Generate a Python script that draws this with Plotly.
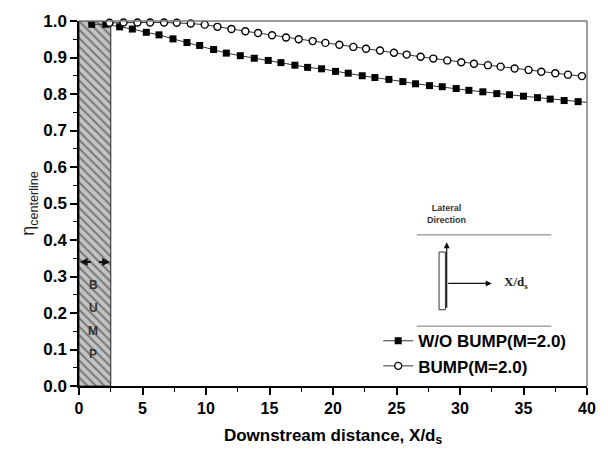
import plotly.graph_objects as go

# ---- data ----
wo_bump_x = [1.0, 2.1, 3.2, 4.2, 5.3, 6.3, 7.4, 8.5, 9.5, 10.6, 11.6, 12.7, 13.8, 14.9,
             15.9, 17.0, 18.0, 19.1, 20.2, 21.2, 22.3, 23.3, 24.4, 25.5, 26.5, 27.6,
             28.6, 29.7, 30.7, 31.8, 32.9, 33.9, 35.0, 36.1, 37.1, 38.2, 39.3, 40.3]
wo_bump_y = [0.991, 0.991, 0.984, 0.978, 0.969, 0.962, 0.951, 0.941, 0.933, 0.922, 0.912,
             0.905, 0.898, 0.892, 0.886, 0.879, 0.873, 0.869, 0.862, 0.857, 0.850, 0.845,
             0.840, 0.834, 0.828, 0.823, 0.820, 0.815, 0.810, 0.806, 0.801, 0.798, 0.794,
             0.790, 0.786, 0.782, 0.779, 0.776]

bump_x = [2.4, 3.5, 4.6, 5.6, 6.7, 7.7, 8.8, 9.9, 10.9, 12.0, 13.1, 14.1, 15.2, 16.3,
          17.3, 18.4, 19.4, 20.5, 21.6, 22.6, 23.7, 24.8, 25.8, 26.9, 27.9, 29.0, 30.1,
          31.1, 32.2, 33.2, 34.3, 35.4, 36.4, 37.5, 38.5, 39.6]
bump_y = [0.995, 0.996, 0.996, 0.996, 0.996, 0.995, 0.993, 0.990, 0.984, 0.978, 0.972,
          0.967, 0.961, 0.955, 0.950, 0.945, 0.940, 0.935, 0.929, 0.924, 0.919, 0.913,
          0.908, 0.902, 0.897, 0.892, 0.887, 0.883, 0.879, 0.875, 0.870, 0.866, 0.861,
          0.857, 0.853, 0.849]

series_names = ["W/O BUMP(M=2.0)", "BUMP(M=2.0)"]

bump_region = [0.0, 2.5]      # x extent of bump block
bump_height = 1.0
bump_letters = ["B", "U", "M", "P"]
bump_letter_y = [0.278, 0.213, 0.151, 0.088]
bump_marker_y = 0.34

x_ticks = [0, 5, 10, 15, 20, 25, 30, 35, 40]
y_ticks = [0.0, 0.1, 0.2, 0.3, 0.4, 0.5, 0.6, 0.7, 0.8, 0.9, 1.0]

FONT = "Liberation Sans, Arial, sans-serif"

fig = go.Figure()

# hatched bump block
fig.add_trace(go.Bar(
    x=[(bump_region[0] + bump_region[1]) / 2], y=[bump_height], base=0,
    width=[bump_region[1] - bump_region[0]],
    marker=dict(color="#c4c4c4", line=dict(color="#222", width=1),
                pattern=dict(shape="\\", fgcolor="#2e2e2e", bgcolor="#c4c4c4",
                             size=6, solidity=0.35)),
    showlegend=False, hoverinfo="skip"))

fig.add_trace(go.Scatter(
    x=wo_bump_x, y=wo_bump_y, name=series_names[0], mode="lines+markers",
    line=dict(color="#333", width=1),
    marker=dict(symbol="square", size=7, color="black"),
    cliponaxis=True))

fig.add_trace(go.Scatter(
    x=bump_x, y=bump_y, name=series_names[1], mode="lines+markers",
    line=dict(color="#333", width=1),
    marker=dict(symbol="circle", size=7, color="white", line=dict(color="black", width=1.4)),
    cliponaxis=False))

shapes = [
    # gray top / right frame
    dict(type="line", xref="paper", yref="paper", x0=0, x1=1, y0=1, y1=1,
         line=dict(color="#7a7a7a", width=1.5)),
    dict(type="line", xref="paper", yref="paper", x0=1, x1=1, y0=0, y1=1,
         line=dict(color="#7a7a7a", width=1.5)),
    # inset diagram
    dict(type="line", x0=26.6, x1=37.2, y0=0.414, y1=0.414, line=dict(color="#777", width=1)),
    dict(type="line", x0=26.6, x1=37.2, y0=0.164, y1=0.164, line=dict(color="#777", width=1)),
    dict(type="rect", x0=28.35, x1=28.85, y0=0.209, y1=0.367,
         line=dict(color="#333", width=1), fillcolor="white"),
]

annotations = []
# B U M P letters
for letter, ly in zip(bump_letters, bump_letter_y):
    annotations.append(dict(x=1.13, y=ly, text=letter, showarrow=False,
                            font=dict(family=FONT, size=12, color="#333", weight="bold")))
# double arrow across the bump
annotations.append(dict(x=0.05, y=bump_marker_y, ax=1.05, ay=bump_marker_y, axref="x", ayref="y",
                        text="", showarrow=True, arrowhead=2, arrowsize=0.8, arrowwidth=2,
                        arrowcolor="#111"))
annotations.append(dict(x=2.45, y=bump_marker_y, ax=1.45, ay=bump_marker_y, axref="x", ayref="y",
                        text="", showarrow=True, arrowhead=2, arrowsize=0.8, arrowwidth=2,
                        arrowcolor="#111"))
# inset arrows
annotations.append(dict(x=28.95, y=0.394, ax=28.95, ay=0.210, axref="x", ayref="y",
                        text="", showarrow=True, arrowhead=2, arrowsize=1, arrowwidth=1.2,
                        arrowcolor="#111"))
annotations.append(dict(x=32.5, y=0.281, ax=28.95, ay=0.281, axref="x", ayref="y",
                        text="", showarrow=True, arrowhead=2, arrowsize=1, arrowwidth=1.2,
                        arrowcolor="#111"))
annotations.append(dict(x=33.3, y=0.283, xanchor="left", text="X/d<sub>s</sub>", showarrow=False,
                        font=dict(family="Liberation Serif, Times New Roman, serif", size=13,
                                  color="#222", weight="bold")))
annotations.append(dict(x=28.9, y=0.470, text="Lateral<br>Direction", showarrow=False,
                        font=dict(family=FONT, size=9, color="#333", weight="bold")))

fig.update_layout(
    width=608, height=455,
    margin=dict(l=79, r=21, t=15, b=69),
    paper_bgcolor="white", plot_bgcolor="white",
    barmode="overlay",
    shapes=shapes, annotations=annotations,
    font=dict(family=FONT, color="black"),
    legend=dict(x=0.589, y=0.172, xanchor="left", yanchor="top",
                bgcolor="rgba(0,0,0,0)", font=dict(family=FONT, size=17, weight="bold"),
                tracegroupgap=0),
    xaxis=dict(range=[0, 40], tickvals=x_ticks, showgrid=False, zeroline=False,
               showline=True, linecolor="black", linewidth=1.5,
               ticks="outside", ticklen=7, tickwidth=1.5, tickcolor="black",
               minor=dict(dtick=2.5, ticks="outside", ticklen=4, tickcolor="black", tickwidth=1),
               tickfont=dict(family=FONT, size=16, weight="bold"),
               title=dict(text="Downstream distance, X/d<sub>s</sub>",
                          font=dict(family=FONT, size=17, weight="bold"), standoff=13)),
    yaxis=dict(range=[0, 1.0], tickvals=y_ticks, tickformat=".1f", showgrid=False, zeroline=False,
               showline=True, linecolor="black", linewidth=1.5,
               ticks="outside", ticklen=7, tickwidth=1.5, tickcolor="black",
               minor=dict(dtick=0.05, ticks="outside", ticklen=4, tickcolor="black", tickwidth=1),
               tickfont=dict(family=FONT, size=17, weight="bold"),
               title=dict(text="η<sub>centerline</sub>",
                          font=dict(family=FONT, size=18, color="#222"), standoff=4)),
)

fig.write_html("out.html")
